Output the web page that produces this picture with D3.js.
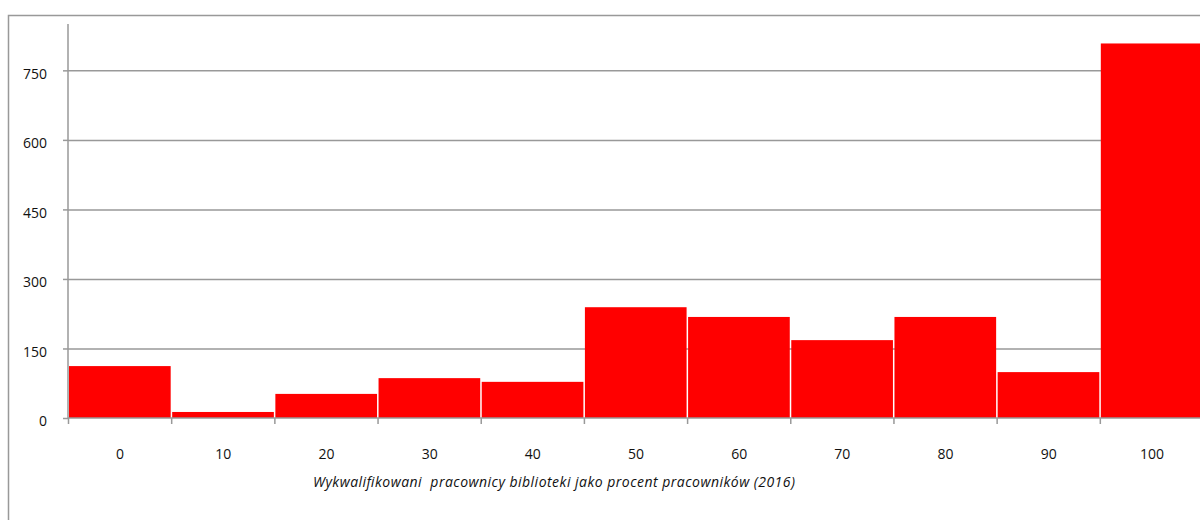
<!DOCTYPE html>
<html>
<head>
<meta charset="utf-8">
<script src="https://cdn.jsdelivr.net/npm/d3@7"></script>
<style>
  body { margin: 0; background: #fff; }
  svg { display: block; }
  .axis text { font-family: "Open Sans", "Liberation Sans", Arial, sans-serif; font-size: 14px; fill: #111; }
</style>
</head>
<body>
<svg id="chart" width="1200" height="520"></svg>
<script>
// histogram bins (percent of qualified staff) and counts
let bins = [0, 10, 20, 30, 40, 50, 60, 70, 80, 90, 100];
let counts = [112, 13, 52, 86, 78, 239, 218, 168, 218, 99, 808];
let yTicks = [0, 150, 300, 450, 600, 750];
let xTitle = 'Wykwalifikowani  pracownicy biblioteki jako procent pracowników (2016)';

let svg = d3.select('#chart');
let gray = '#999';

// outer frame (runs off the right and bottom edge)
svg.append('rect')
    .attr('x', 8.5).attr('y', 15.5)
    .attr('width', 1300).attr('height', 600)
    .attr('fill', 'none').attr('stroke', gray).attr('stroke-width', 1.5);

let x = d3.scaleLinear().domain([-5, 105]).range([68, 1203]);
let y = d3.scaleLinear().domain([0, 850]).range([418, 24]);

// gridlines
svg.append('g')
    .attr('transform', 'translate(68,0)')
    .call(d3.axisLeft(y).tickValues(yTicks.slice(1)).tickSize(-1140).tickFormat(''))
    .call(g => g.select('.domain').remove())
    .call(g => g.selectAll('line').attr('stroke', gray).attr('stroke-width', 1.5));

// bars
svg.append('g').selectAll('rect')
    .data(bins)
    .enter().append('rect')
    .attr('x', (d) => x(d - 5) + 1)
    .attr('y', (d, i) => y(counts[i]))
    .attr('width', (d) => x(d + 5) - x(d - 5) - 1.5)
    .attr('height', (d, i) => y(0) - y(counts[i]))
    .attr('fill', '#ff0000');

// y axis
svg.append('g')
    .attr('class', 'axis')
    .attr('transform', 'translate(68,0)')
    .call(d3.axisLeft(y).tickValues(yTicks).tickSize(5).tickPadding(16))
    .call(g => g.select('.domain').attr('stroke', gray).attr('stroke-width', 1.5).attr('d', `M0,${y(850)}V${y(0)}`))
    .call(g => g.selectAll('line').attr('stroke', gray).attr('stroke-width', 1.5))
    .call(g => g.selectAll('text').attr('dy', '0.55em'));

// x axis: ticks at bin edges
let edges = bins.map(d => d - 5).concat([105]);
svg.append('g')
    .attr('transform', `translate(0,${y(0)})`)
    .call(d3.axisBottom(x).tickValues(edges).tickSize(6).tickSizeOuter(0).tickFormat(''))
    .call(g => g.select('.domain').attr('stroke', gray).attr('stroke-width', 1.5).attr('d', 'M68,0H1200'))
    .call(g => g.selectAll('line').attr('stroke', gray).attr('stroke-width', 1.5));

// x labels centered in each bin
svg.append('g')
    .attr('class', 'axis')
    .attr('transform', `translate(0,${y(0)})`)
    .call(d3.axisBottom(x).tickValues(bins).tickSize(0).tickPadding(31))
    .call(g => g.select('.domain').remove());

// axis title
svg.append('text')
    .attr('x', 313).attr('y', 487)
    .attr('textLength', 482)
    .attr('lengthAdjust', 'spacing')
    .style('white-space', 'pre')
    .style('font-family', '"Open Sans", "Liberation Sans", Arial, sans-serif')
    .style('font-size', '14px')
    .style('font-style', 'italic')
    .attr('fill', '#111')
    .text(xTitle);
</script>
</body>
</html>
